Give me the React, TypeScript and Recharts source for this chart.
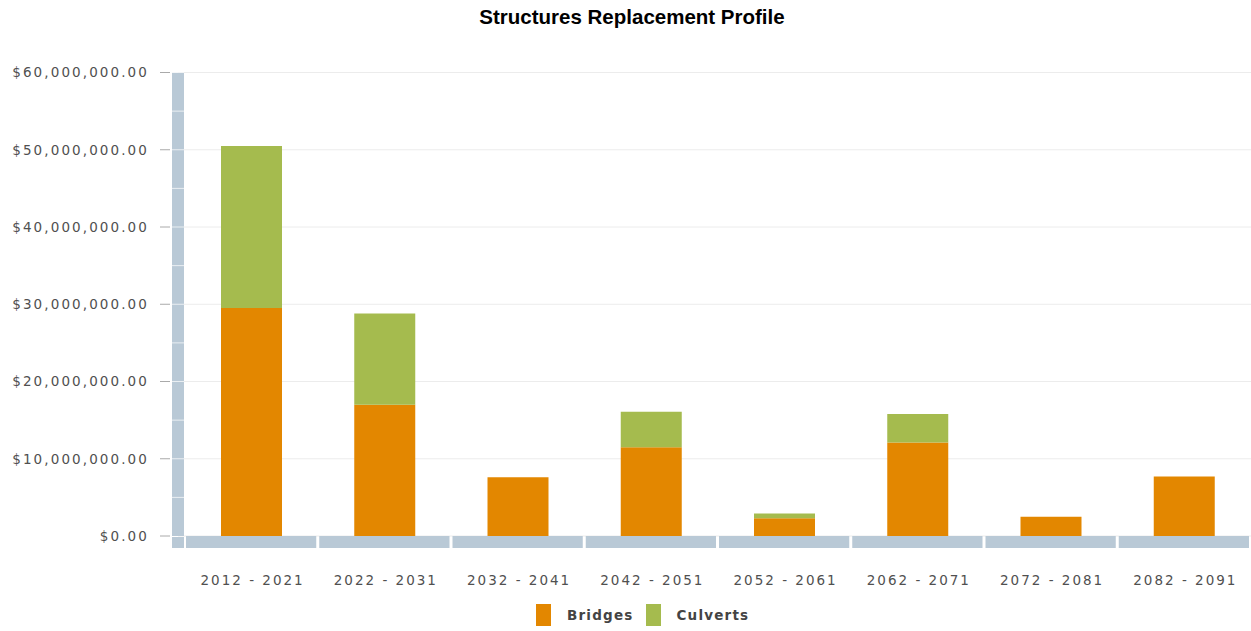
import React from 'react';
import { BarChart, Bar, XAxis, YAxis, CartesianGrid } from 'recharts';

const categories = ['2012 - 2021', '2022 - 2031', '2032 - 2041', '2042 - 2051', '2052 - 2061', '2062 - 2071', '2072 - 2081', '2082 - 2091'];
const bridges = [29.5e6, 17.0e6, 7.6e6, 11.5e6, 2.3e6, 12.1e6, 2.5e6, 7.7e6];
const culverts = [21.0e6, 11.8e6, 0, 4.6e6, 0.6e6, 3.7e6, 0, 0];
const majorTicks = [0, 10e6, 20e6, 30e6, 40e6, 50e6, 60e6];
const minorTicks = [0, 5e6, 10e6, 15e6, 20e6, 25e6, 30e6, 35e6, 40e6, 45e6, 50e6, 55e6, 60e6];
const seriesNames = ['Bridges', 'Culverts'];
const seriesColors = ['#e38700', '#a5bb4e'];
const title = 'Structures Replacement Profile';

const data = categories.map((c, i) => ({ name: c, Bridges: bridges[i], Culverts: culverts[i] }));

const AXIS_COLOR = '#b9c9d6';
const TEXT_COLOR = '#505050';
const FONT = '"DejaVu Sans", Verdana, sans-serif';

const fmt = (v: number) =>
  '$' + v.toLocaleString('en-US', { minimumFractionDigits: 2, maximumFractionDigits: 2 });

const YTick = (props: any) => {
  const { x, y, payload } = props;
  const v = payload.value as number;
  const isMajor = majorTicks.includes(v);
  return (
    <g>
      {v === 0 ? (
        <rect x={x - 6} y={y + 1} width={12} height={11} fill={AXIS_COLOR} />
      ) : (
        <line x1={x - 6} x2={x + 6} y1={y} y2={y} stroke="#ffffff" strokeOpacity={0.7} strokeWidth={1} />
      )}
      {isMajor && (
        <>
          <line x1={x - 18} x2={x - 8} y1={y} y2={y} stroke="#aaaaaa" strokeWidth={1} />
          <text
            x={x - 29}
            y={y}
            dy={4.9}
            textAnchor="end"
            fill={TEXT_COLOR}
            fontFamily={FONT}
            fontSize={13.5}
            letterSpacing={2.1}
          >
            {fmt(v)}
          </text>
        </>
      )}
    </g>
  );
};

const XTick = (props: any) => {
  const { x, y, payload } = props;
  const off = payload && typeof payload.offset === 'number' && payload.offset > 0 ? payload.offset : 66.625;
  return (
    <g>
      <rect x={x - off + 1} y={y} width={off * 2 - 3} height={12} fill={AXIS_COLOR} />
      <text
        x={x + 1}
        y={y + 49}
        textAnchor="middle"
        fill={TEXT_COLOR}
        fontFamily={FONT}
        fontSize={13.5}
        letterSpacing={2.0}
      >
        {payload.value}
      </text>
    </g>
  );
};

export default function App() {
  return (
    <div style={{ position: 'absolute', left: 0, top: 0, width: 1251, height: 631, background: '#ffffff' }}>
      <div
        style={{
          position: 'absolute',
          left: 0,
          top: 4,
          width: 1264,
          textAlign: 'center',
          fontFamily: '"Liberation Sans", Arial, sans-serif',
          fontWeight: 700,
          fontSize: 20.5,
          lineHeight: '26px',
          color: '#000',
        }}
      >
        {title}
      </div>
      <div style={{ position: 'absolute', left: 0, top: 0 }}>
        <BarChart
          width={1251}
          height={631}
          data={data}
          margin={{ top: 72.5, right: 0, left: 78, bottom: 35 }}
          barSize={61}
        >
          <CartesianGrid
            horizontal={true}
            vertical={false}
            stroke="#ececec"
            horizontalValues={majorTicks}
          />
          <XAxis
            dataKey="name"
            height={60}
            axisLine={false}
            tickLine={false}
            tickSize={0}
            tickMargin={0}
            interval={0}
            padding={{ left: 7, right: 0 }}
            tick={<XTick />}
          />
          <YAxis
            width={100}
            domain={[0, 60e6]}
            ticks={minorTicks}
            interval={0}
            axisLine={{ stroke: AXIS_COLOR, strokeWidth: 12 }}
            tickLine={false}
            tickSize={0}
            tickMargin={0}
            tick={<YTick />}
          />
          <Bar dataKey="Bridges" stackId="a" fill={seriesColors[0]} isAnimationActive={false} />
          <Bar dataKey="Culverts" stackId="a" fill={seriesColors[1]} isAnimationActive={false} />
        </BarChart>
      </div>
      <div
        style={{
          position: 'absolute',
          left: 536,
          top: 604,
          height: 22,
          display: 'flex',
          alignItems: 'center',
          fontFamily: FONT,
          fontWeight: 700,
          fontSize: 13.5,
          letterSpacing: 1.2,
          color: '#444',
        }}
      >
        {seriesNames.map((n, i) => (
          <div key={n} style={{ display: 'flex', alignItems: 'center', marginRight: i === 0 ? 12 : 0 }}>
            <span style={{ display: 'inline-block', width: 15, height: 22, background: seriesColors[i], marginRight: 16 }} />
            <span>{n}</span>
          </div>
        ))}
      </div>
    </div>
  );
}
